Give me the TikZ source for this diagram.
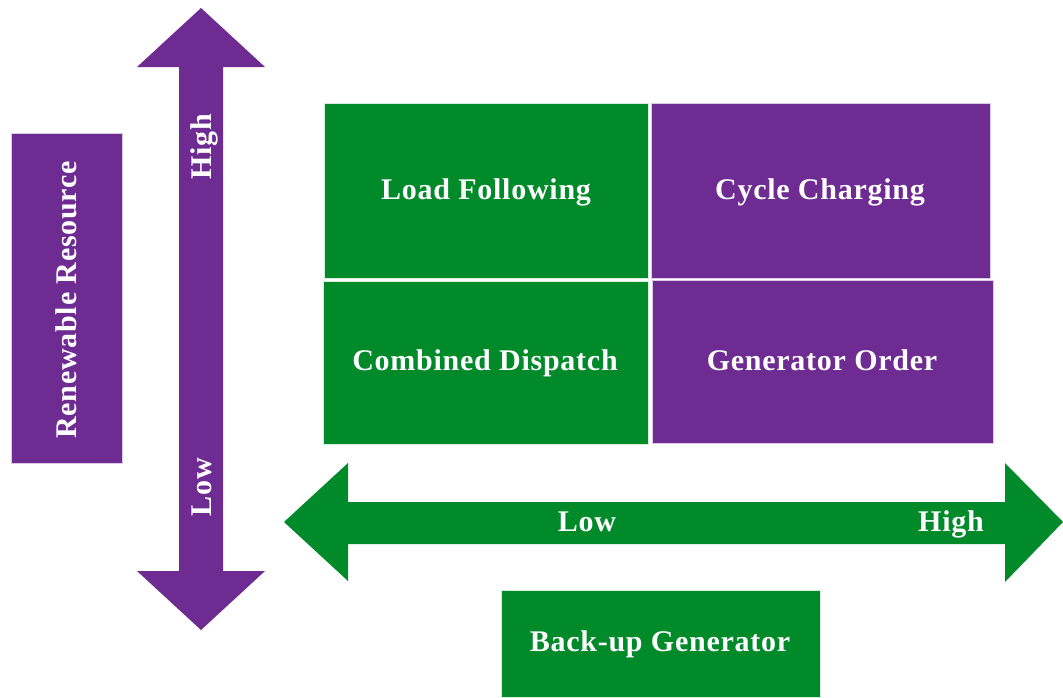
\documentclass[tikz,border=0pt]{standalone}
\usepackage{fontspec}
\setmainfont{Liberation Serif}[LetterSpace=2.5]
\definecolor{grn}{RGB}{0,138,42}
\definecolor{prp}{RGB}{110,44,146}
\begin{document}
\begin{tikzpicture}[x=1pt,y=-1pt,
  lbl/.style={text=white,font=\bfseries\fontsize{30}{33}\selectfont,inner sep=0pt},
  gbox/.style={fill=grn,draw=white!85!grn,line width=0.8pt},
  pbox/.style={fill=prp,draw=white!75!prp,line width=0.8pt}]
\useasboundingbox (0,0) rectangle (1063,697);
% vertical arrow
\fill[prp] (201,8) -- (265,67) -- (223,67) -- (223,571) -- (265,571) -- (201,630)
  -- (137,571) -- (179,571) -- (179,67) -- (137,67) -- cycle;
% horizontal arrow
\fill[grn] (284,522) -- (348,463) -- (348,502) -- (1005,502) -- (1005,463) -- (1063,522)
  -- (1005,582) -- (1005,544) -- (348,544) -- (348,581) -- cycle;
% boxes
\draw[gbox] (324,103) rectangle (648,278);
\draw[pbox] (651,103) rectangle (990,278);
\draw[gbox] (323,281) rectangle (648,444);
\draw[pbox] (652,280) rectangle (993,443);
\draw[pbox] (11,133) rectangle (122,463);
\draw[gbox] (501,590) rectangle (820,697);
% labels
\node[lbl,anchor=base] (lf) at (486,199) {Load Following};
\node[lbl,anchor=base] (cc) at (820,199) {Cycle Charging};
\node[lbl,anchor=base] (cd) at (485,370) {Combined Dispatch};
\node[lbl,anchor=base] (go) at (822,370) {Generator Order};
\node[lbl,anchor=base] (bg) at (660,651) {Back-up Generator};
\node[lbl,rotate=90,anchor=base] (rr) at (76,300) {Renewable Resource};
\node[lbl,rotate=90,anchor=base] (vh) at (211,147) {High};
\node[lbl,rotate=90,anchor=base] (vl) at (211,487) {Low};
\node[lbl,anchor=base] (hl) at (587,531) {Low};
\node[lbl,anchor=base] (hh) at (951,531) {High};
\end{tikzpicture}
\end{document}
